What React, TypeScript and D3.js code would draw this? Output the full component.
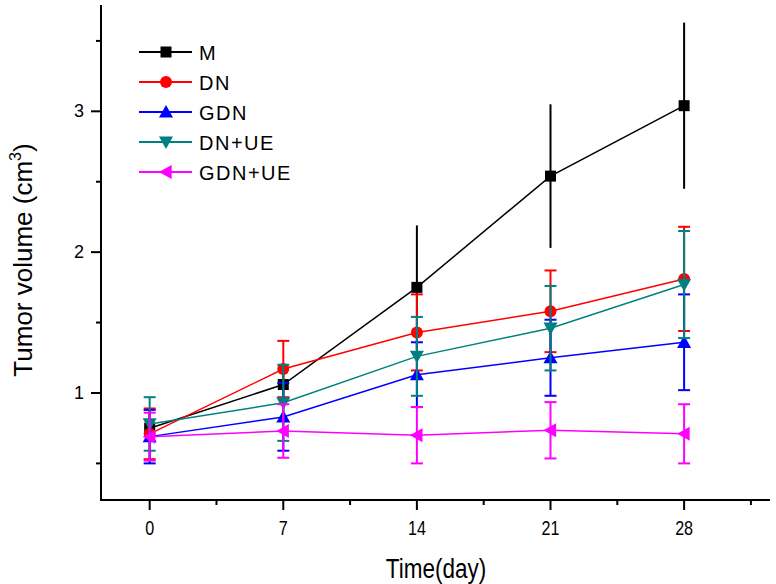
import React from 'react';
import * as d3 from 'd3';

const days = [0, 7, 14, 21, 28];
const xMajorTicks = [0, 7, 14, 21, 28];
const xMinorTicks = [3.5, 10.5, 17.5, 24.5, 31.5];
const yMajorTicks = [1, 2, 3];
const yMinorTicks = [0.5, 1.5, 2.5, 3.5];

const seriesNames = ['M', 'DN', 'GDN', 'DN+UE', 'GDN+UE'];
const seriesColors = ['#000000', '#ff0000', '#0000ff', '#008080', '#ff00ff'];
const seriesShapes = ['square', 'circle', 'up', 'down', 'left'];

const mValues = [0.75, 1.06, 1.75, 2.54, 3.04];
const mErrors = [0.1, 0.1, 0.44, 0.51, 0.59];
const dnValues = [0.71, 1.17, 1.43, 1.58, 1.81];
const dnErrors = [0.18, 0.2, 0.27, 0.29, 0.37];
const gdnValues = [0.69, 0.83, 1.13, 1.25, 1.36];
const gdnErrors = [0.19, 0.24, 0.23, 0.27, 0.34];
const dnueValues = [0.78, 0.93, 1.26, 1.46, 1.77];
const dnueErrors = [0.19, 0.27, 0.28, 0.3, 0.38];
const gdnueValues = [0.69, 0.73, 0.7, 0.735, 0.71];
const gdnueErrors = [0.17, 0.19, 0.2, 0.2, 0.21];

const seriesValues = [mValues, dnValues, gdnValues, dnueValues, gdnueValues];
const seriesErrors = [mErrors, dnErrors, gdnErrors, dnueErrors, gdnueErrors];

const W = 776;
const H = 584;
const font = 'Arial, "Liberation Sans", sans-serif';

const x = d3.scaleLinear().domain([-2.55, 32.5]).range([101, 770]);
const y = d3.scaleLinear().domain([0.24, 3.755]).range([500, 5]);

const Marker = ({ shape, cx, cy, color }: { shape: string; cx: number; cy: number; color: string }) => {
  if (shape === 'square') return <rect x={cx - 5.5} y={cy - 5.5} width={11} height={11} fill={color} />;
  if (shape === 'circle') return <circle cx={cx} cy={cy} r={6} fill={color} />;
  const s = 7;
  let pts: [number, number][] = [];
  if (shape === 'up') pts = [[cx, cy - s], [cx - s, cy + s * 0.8], [cx + s, cy + s * 0.8]];
  if (shape === 'down') pts = [[cx, cy + s], [cx - s, cy - s * 0.8], [cx + s, cy - s * 0.8]];
  if (shape === 'left') pts = [[cx - s, cy], [cx + s * 0.8, cy - s], [cx + s * 0.8, cy + s]];
  return <polygon points={pts.map(p => p.join(',')).join(' ')} fill={color} />;
};

const App = () => {
  const line = d3.line<number>()
    .x((_, i) => x(days[i]))
    .y(d => y(d));

  return (
    <svg width={W} height={H} style={{ position: 'absolute', left: 0, top: 0, background: '#fff' }}>
      <rect width={W} height={H} fill="#fff" />

      {/* series */}
      {seriesNames.map((name, s) => {
        const color = seriesColors[s];
        const vals = seriesValues[s];
        const errs = seriesErrors[s];
        const caps = s !== 0;
        return (
          <g key={name}>
            {vals.map((v, i) => (
              <g key={i} stroke={color} strokeWidth={2}>
                <line x1={x(days[i])} x2={x(days[i])} y1={y(v + errs[i])} y2={y(v - errs[i])} />
                {caps && (
                  <>
                    <line x1={x(days[i]) - 6} x2={x(days[i]) + 6} y1={y(v + errs[i])} y2={y(v + errs[i])} />
                    <line x1={x(days[i]) - 6} x2={x(days[i]) + 6} y1={y(v - errs[i])} y2={y(v - errs[i])} />
                  </>
                )}
              </g>
            ))}
            <path d={line(vals) || ''} fill="none" stroke={color} strokeWidth={1.5} />
            {vals.map((v, i) => (
              <Marker key={i} shape={seriesShapes[s]} cx={x(days[i])} cy={y(v)} color={color} />
            ))}
          </g>
        );
      })}

      {/* axes */}
      <line x1={x.range()[0]} x2={x.range()[0]} y1={y.range()[1]} y2={y.range()[0] + 1} stroke="#000" strokeWidth={2} />
      <line x1={x.range()[0] - 1} x2={x.range()[1]} y1={y.range()[0]} y2={y.range()[0]} stroke="#000" strokeWidth={2} />

      {xMajorTicks.map(t => (
        <g key={`xt-${t}`}>
          <line x1={x(t)} x2={x(t)} y1={500} y2={510} stroke="#000" strokeWidth={2} />
          <text transform={`translate(${x(t)}, 535) scale(0.85, 1.1)`} textAnchor="middle" fontSize={19} fontFamily={font} fill="#000">{t}</text>
        </g>
      ))}
      {xMinorTicks.map(t => (
        <line key={`xm-${t}`} x1={x(t)} x2={x(t)} y1={500} y2={505} stroke="#000" strokeWidth={2} />
      ))}
      {yMajorTicks.map(t => (
        <g key={`yt-${t}`}>
          <line x1={101} x2={91} y1={y(t)} y2={y(t)} stroke="#000" strokeWidth={2} />
          <text x={84} y={y(t) + 6} textAnchor="end" fontSize={18} fontFamily={font} fill="#000">{t}</text>
        </g>
      ))}
      {yMinorTicks.map(t => (
        <line key={`ym-${t}`} x1={101} x2={96} y1={y(t)} y2={y(t)} stroke="#000" strokeWidth={2} />
      ))}

      {/* axis titles */}
      <text transform="translate(436, 578) scale(0.9, 1.1)" textAnchor="middle" fontSize={25} fontFamily={font} fill="#000">Time(day)</text>
      <text transform="translate(32, 260) rotate(-90)" textAnchor="middle" fontSize={26} fontFamily={font} fill="#000">
        Tumor volume (cm<tspan fontSize={16} dy={-11}>3</tspan><tspan dy={11}>)</tspan>
      </text>

      {/* legend */}
      {seriesNames.map((name, s) => {
        const ly = 52 + s * 30;
        return (
          <g key={`lg-${name}`}>
            <line x1={139} x2={192} y1={ly} y2={ly} stroke={seriesColors[s]} strokeWidth={2} />
            <Marker shape={seriesShapes[s]} cx={166} cy={ly} color={seriesColors[s]} />
            <text x={199} y={ly + 7.5} fontSize={20} fontFamily={font} letterSpacing={1.5} fill="#000">{name}</text>
          </g>
        );
      })}
    </svg>
  );
};

export default App;
